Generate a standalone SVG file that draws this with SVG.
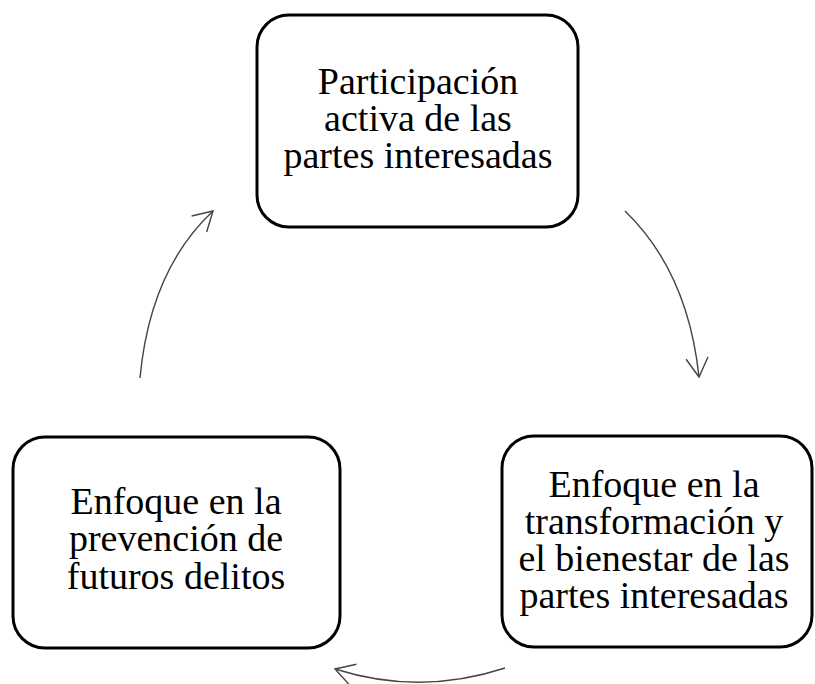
<svg xmlns="http://www.w3.org/2000/svg" width="815" height="684" viewBox="0 0 815 684">
<defs>
<style>
.box{fill:#fff;stroke:#000;stroke-width:3}
.lbl{font-family:"Liberation Serif","Times New Roman",serif;font-size:38px;fill:#000;text-anchor:middle}
.con{fill:none;stroke:#444;stroke-width:1.4}
</style>
<marker id="ah" markerUnits="userSpaceOnUse" markerWidth="30" markerHeight="30" viewBox="-25 -15 30 30" refX="0" refY="0" orient="auto">
<path d="M -19 -11 L 0 0 L -19 11" fill="none" stroke="#444" stroke-width="1.4"/>
</marker>
</defs>
<rect width="815" height="684" fill="#fff"/>
<g id="connectors">
<path class="con" d="M 625 211 Q 688 272 699 377" marker-end="url(#ah)"/>
<path class="con" d="M 505 668 Q 420 696 335 669" marker-end="url(#ah)"/>
<path class="con" d="M 140 378 Q 150 270 213 211" marker-end="url(#ah)"/>
</g>
<g id="node-top">
<rect class="box" x="257" y="15" width="321" height="212" rx="32"/>
<text class="lbl"><tspan x="418" y="94">Participación</tspan><tspan x="418" y="131">activa de las</tspan><tspan x="418" y="168">partes interesadas</tspan></text>
</g>
<g id="node-right">
<rect class="box" x="502" y="436" width="310" height="211" rx="32"/>
<text class="lbl"><tspan x="654" y="497">Enfoque en la</tspan><tspan x="654" y="534">transformación y</tspan><tspan x="654" y="571">el bienestar de las</tspan><tspan x="654" y="608">partes interesadas</tspan></text>
</g>
<g id="node-left">
<rect class="box" x="13" y="437" width="327" height="211" rx="32"/>
<text class="lbl"><tspan x="176" y="514">Enfoque en la</tspan><tspan x="176" y="551">prevención de</tspan><tspan x="176" y="589">futuros delitos</tspan></text>
</g>
</svg>
